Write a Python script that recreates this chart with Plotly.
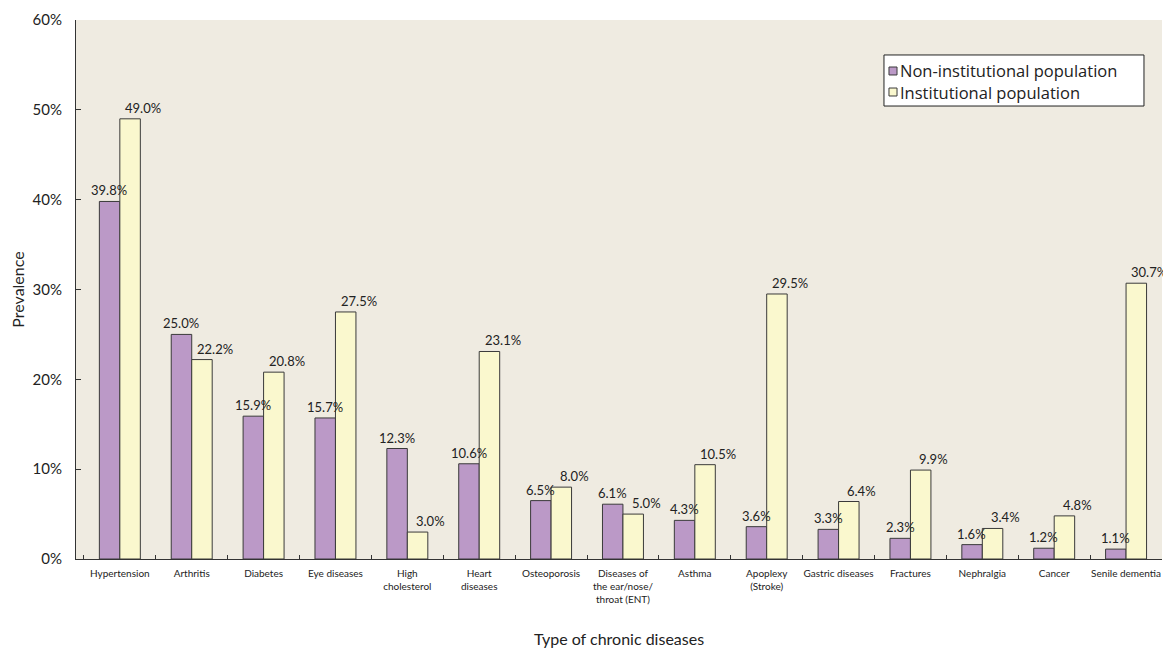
import plotly.graph_objects as go

categories = ["Hypertension", "Arthritis", "Diabetes", "Eye diseases", "High<br>cholesterol",
              "Heart<br>diseases", "Osteoporosis", "Diseases of<br>the ear/nose/<br>throat (ENT)",
              "Asthma", "Apoplexy<br>(Stroke)", "Gastric diseases", "Fractures", "Nephralgia",
              "Cancer", "Senile dementia"]
non_institutional = [39.8, 25.0, 15.9, 15.7, 12.3, 10.6, 6.5, 6.1, 4.3, 3.6, 3.3, 2.3, 1.6, 1.2, 1.1]
institutional = [49.0, 22.2, 20.8, 27.5, 3.0, 23.1, 8.0, 5.0, 10.5, 29.5, 6.4, 9.9, 3.4, 4.8, 30.7]
series_names = ["Non-institutional population", "Institutional population"]
y_ticks = [0, 10, 20, 30, 40, 50, 60]

FONT = "Lato"
LEGEND_FONT = "Open Sans"
PURPLE = "#BB99C7"
YELLOW = "#FAF8CE"
EDGE = "#3a3a3a"

fig = go.Figure()
fig.add_trace(go.Bar(x=categories, y=[v / 100 for v in non_institutional], name=series_names[0],
                     marker=dict(color=PURPLE, line=dict(color=EDGE, width=1))))
fig.add_trace(go.Bar(x=categories, y=[v / 100 for v in institutional], name=series_names[1],
                     marker=dict(color=YELLOW, line=dict(color=EDGE, width=1))))

annotations = []
for i, c in enumerate(categories):
    annotations.append(dict(x=i - 0.145, y=non_institutional[i] / 100, xref="x", yref="y",
                            text=f"{non_institutional[i]:.1f}%", showarrow=False, yanchor="bottom",
                            xanchor="center", yshift=1, xshift=0,
                            font=dict(family=FONT, size=13, color="#222")))
    annotations.append(dict(x=i + 0.145, y=institutional[i] / 100, xref="x", yref="y",
                            text=f"{institutional[i]:.1f}%", showarrow=False, yanchor="bottom",
                            xanchor="center", yshift=1, xshift=13,
                            font=dict(family=FONT, size=13, color="#222")))

# Legend drawn as a boxed key (paper coordinates)
shapes = [dict(type="rect", xref="paper", yref="paper", x0=0.7440, x1=0.9834, y0=0.8404, y1=0.9351,
               fillcolor="white", line=dict(color="#222", width=1), layer="above")]
legend_rows_y = [0.9054, 0.8664]
for name, color, yc in zip(series_names, [PURPLE, YELLOW], legend_rows_y):
    shapes.append(dict(type="rect", xref="paper", yref="paper", x0=0.7486, x1=0.7560,
                       y0=yc - 0.0074, y1=yc + 0.0074, fillcolor=color,
                       line=dict(color=EDGE, width=1), layer="above"))
    annotations.append(dict(x=0.7569, y=yc, xref="paper", yref="paper", text=name, showarrow=False,
                            xanchor="left", yanchor="middle",
                            font=dict(family=LEGEND_FONT, size=16.5, color="#222")))

fig.update_layout(annotations=annotations, shapes=shapes)

fig.update_layout(
    width=1163, height=640,
    margin=dict(l=68, r=9, t=12, b=89),
    paper_bgcolor="white",
    plot_bgcolor="#EFEBE1",
    barmode="group",
    bargap=0.43,
    bargroupgap=0,
    font=dict(family=FONT, color="#222"),
    showlegend=False,
    xaxis=dict(range=[-0.61, 14.5], showline=True, linecolor="#333", linewidth=1,
               ticks="inside", ticklen=4, tickcolor="#333", tickson="boundaries",
               ticklabelstandoff=5,
               tickfont=dict(family=FONT, size=10, color="#222"), showgrid=False,
               title=dict(text="Type of chronic diseases", font=dict(family=FONT, size=16, color="#222"),
                          standoff=34), automargin=False, tickangle=0),
    yaxis=dict(range=[0, 0.6], tickvals=[t / 100 for t in y_ticks], ticktext=[f"{t}%" for t in y_ticks],
               showline=True, linecolor="#333", linewidth=1, ticks="inside", ticklen=5,
               tickcolor="#333", showgrid=False, zeroline=False, ticklabelstandoff=10,
               tickfont=dict(family=FONT, size=15, color="#222"),
               title=dict(text="Prevalence", font=dict(family=FONT, size=16, color="#222"), standoff=4),
               automargin=False),
)

fig.write_html("out.html")
